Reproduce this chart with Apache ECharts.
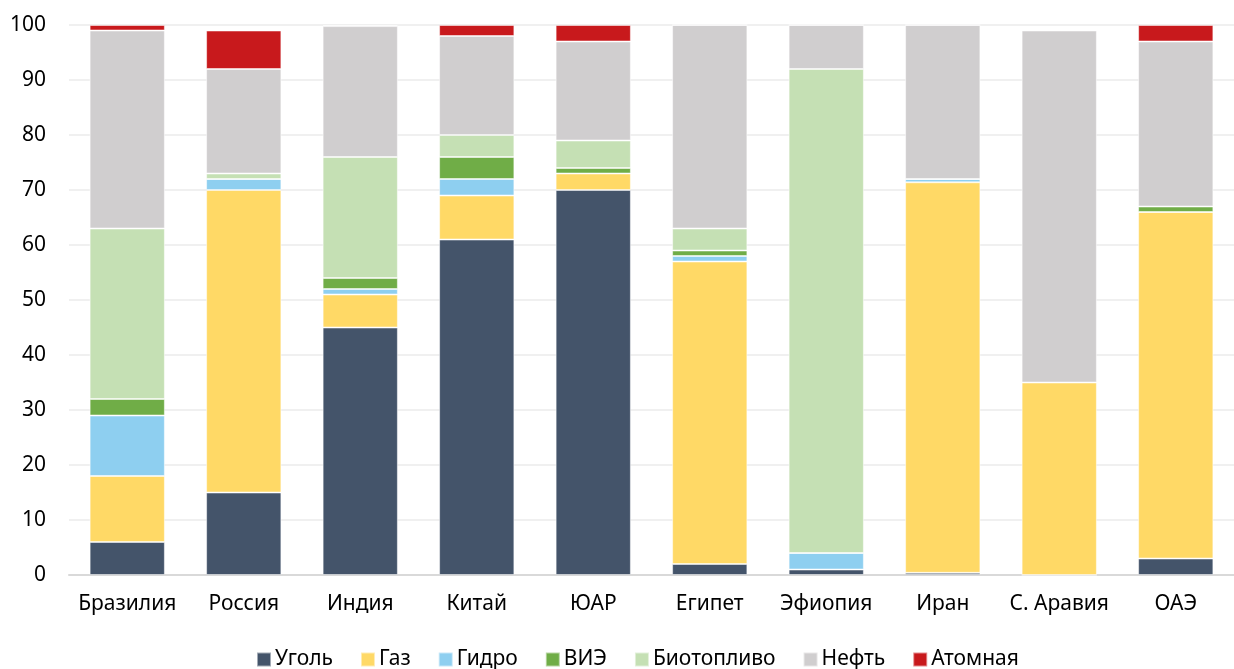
<!DOCTYPE html>
<html>
<head>
<meta charset="utf-8">
<script src="https://cdn.jsdelivr.net/npm/echarts@6/dist/echarts.min.js"></script>
<style>
  html, body { margin: 0; padding: 0; background: #fff; }
  #chart { width: 1234px; height: 669px; }
</style>
</head>
<body>
<div id="chart"></div>
<script>
var countries = ['Бразилия', 'Россия', 'Индия', 'Китай', 'ЮАР', 'Египет', 'Эфиопия', 'Иран', 'С. Аравия', 'ОАЭ'];

var coal    = [6, 15, 45, 61, 70, 2, 1, 0.4, 0, 3];
var gas     = [12, 55, 6, 8, 3, 55, 0, 71, 35, 63];
var hydro   = [11, 2, 1, 3, 0, 1, 3, 0.6, 0, 0];
var renew   = [3, 0, 2, 4, 1, 1, 0, 0, 0, 1];
var biofuel = [31, 1, 22, 4, 5, 4, 88, 0, 0, 0];
var oil     = [36, 19, 23.8, 18, 18, 37, 8, 28, 64, 30];
var nuclear = [1, 7, 0.2, 2, 3, 0, 0, 0, 0, 3];

var yTicks = [0, 10, 20, 30, 40, 50, 60, 70, 80, 90, 100];

var seriesDefs = [
    ['Уголь', coal, '#44546a'],
    ['Газ', gas, '#ffd966'],
    ['Гидро', hydro, '#8ecff0'],
    ['ВИЭ', renew, '#70ad47'],
    ['Биотопливо', biofuel, '#c5e0b4'],
    ['Нефть', oil, '#d0cecf'],
    ['Атомная', nuclear, '#c8191c']
];

var font = 'Noto Sans';
var chart = echarts.init(document.getElementById('chart'));

var series = seriesDefs.map(function (d) {
    return {
        name: d[0],
        type: 'bar',
        stack: 'total',
        barWidth: '64.6%',
        data: d[1],
        itemStyle: {
            color: d[2],
            borderColor: 'rgba(255,255,255,0.5)',
            borderWidth: 1
        },
        emphasis: { disabled: true }
    };
});

var option = {
    animation: false,
    backgroundColor: '#fff',
    grid: {
        left: 69,
        top: 25,
        width: 1176,
        height: 550,
        containLabel: false
    },
    legend: {
        top: 649,
        left: 256,
        padding: 0,
        itemWidth: 14,
        itemHeight: 14,
        itemGap: 27,
        icon: 'rect',
        textStyle: { fontFamily: font, fontSize: 21, color: '#000', padding: [0, 0, 0, -1] },
        data: seriesDefs.map(function (d) { return d[0]; })
    },
    xAxis: {
        type: 'category',
        data: countries,
        axisLine: { lineStyle: { color: '#d9d9d9', width: 2 } },
        axisTick: { show: false },
        axisLabel: { fontFamily: font, fontSize: 21, color: '#000', margin: 19, interval: 0 }
    },
    yAxis: {
        type: 'value',
        min: yTicks[0],
        max: yTicks[yTicks.length - 1],
        interval: 10,
        axisLine: { show: false },
        axisTick: { show: false },
        axisLabel: { fontFamily: font, fontSize: 21, color: '#000', margin: 23 },
        splitLine: { lineStyle: { color: '#f0f0f0', width: 2 } }
    },
    series: series
};

chart.setOption(option);
</script>
</body>
</html>
